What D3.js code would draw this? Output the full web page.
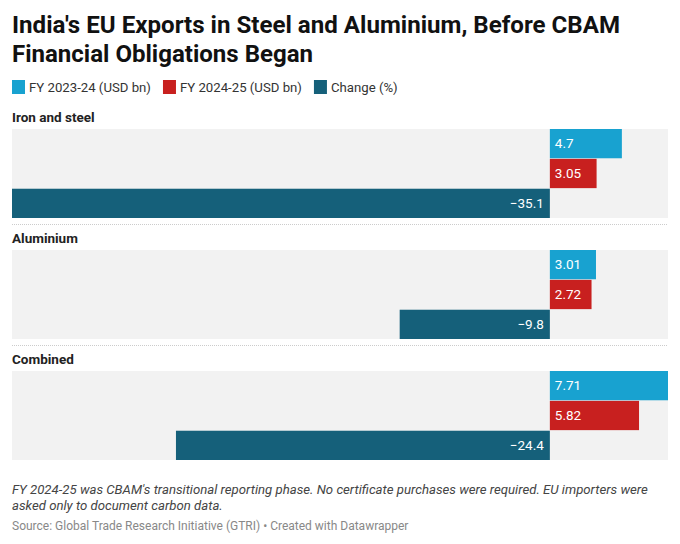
<!DOCTYPE html>
<html>
<head>
<meta charset="utf-8">
<script src="https://cdn.jsdelivr.net/npm/d3@7"></script>
<style>
	body { margin: 0; background: #fff; }
	svg { display: block; font-family: Roboto, "Noto Sans", sans-serif; }
</style>
</head>
<body>
<div id="chart"></div>
<script>
// chart values
var categories = ["Iron and steel", "Aluminium", "Combined"];
var seriesNames = ["FY 2023-24 (USD bn)", "FY 2024-25 (USD bn)", "Change (%)"];
var fy2324 = [4.7, 3.01, 7.71];
var fy2425 = [3.05, 2.72, 5.82];
var change = [-35.1, -9.8, -24.4];
var colors = ["#18a2d0", "#c8201f", "#15607a"];

var w = 680, h = 544;
var left = 12, right = 668;
var panelTop = 129, panelStep = 121, panelH = 89;

var svg = d3.select("#chart").append("svg")
	.attr("width", w)
	.attr("height", h);

// title
svg.append("text")
	.attr("x", left).attr("y", 33)
	.attr("font-size", 24).attr("font-weight", 700).attr("fill", "#111")
	.attr("textLength", 608).attr("lengthAdjust", "spacingAndGlyphs")
	.text("India's EU Exports in Steel and Aluminium, Before CBAM");
svg.append("text")
	.attr("x", left).attr("y", 62)
	.attr("font-size", 24).attr("font-weight", 700).attr("fill", "#111")
	.attr("textLength", 301).attr("lengthAdjust", "spacingAndGlyphs")
	.text("Financial Obligations Began");

// legend
var lx = left;
seriesNames.forEach(function(name, i) {
	svg.append("rect")
		.attr("x", lx).attr("y", 80)
		.attr("width", 13).attr("height", 14)
		.attr("fill", colors[i]);
	var t = svg.append("text")
		.attr("x", lx + 17).attr("y", 92)
		.attr("font-size", 13.2).attr("fill", "#333")
		.text(name);
	lx += 17 + t.node().getComputedTextLength() + 12;
});

var x = d3.scaleLinear()
	.domain([d3.min(change), d3.max(fy2324.concat(fy2425))])
	.range([left, right]);

var y = d3.scaleBand()
	.domain([0, 1, 2])
	.range([0, panelH])
	.paddingInner(0.02);

categories.forEach(function(cat, i) {
	var top = panelTop + i * panelStep;
	var g = svg.append("g").attr("transform", "translate(0," + top + ")");

	svg.append("text")
		.attr("x", left).attr("y", top - 7)
		.attr("font-size", 13.5).attr("font-weight", 700).attr("fill", "#222")
		.text(cat);

	g.append("rect")
		.attr("x", left).attr("y", 0)
		.attr("width", right - left).attr("height", panelH)
		.attr("fill", "#f2f2f2");

	var vals = [fy2324[i], fy2425[i], change[i]];
	g.selectAll("rect.bar")
		.data(vals)
		.enter()
		.append("rect")
		.attr("class", "bar")
		.attr("x", function(d) { return x(Math.min(0, d)); })
		.attr("y", function(d, j) { return y(j); })
		.attr("width", function(d) { return Math.abs(x(d) - x(0)); })
		.attr("height", y.bandwidth())
		.attr("fill", function(d, j) { return colors[j]; });

	g.selectAll("text.lbl")
		.data(vals)
		.enter()
		.append("text")
		.attr("class", "lbl")
		.attr("x", function(d) { return d < 0 ? x(0) - 6 : x(0) + 5; })
		.attr("y", function(d, j) { return y(j) + y.bandwidth() / 2 + 4.5; })
		.attr("text-anchor", function(d) { return d < 0 ? "end" : "start"; })
		.attr("font-size", 13.5).attr("fill", "#fff")
		.text(function(d) { return d < 0 ? "\u2212" + Math.abs(d) : d; });

	if (i < categories.length - 1) {
		svg.append("line")
			.attr("x1", left).attr("x2", right)
			.attr("y1", top + panelH + 6.5).attr("y2", top + panelH + 6.5)
			.attr("stroke", "#ccc").attr("stroke-dasharray", "1,1");
	}
});

// notes
svg.append("text")
	.attr("x", left).attr("y", 494)
	.attr("font-size", 13.2).attr("font-style", "italic").attr("fill", "#444")
	.text("FY 2024-25 was CBAM's transitional reporting phase. No certificate purchases were required. EU importers were");
svg.append("text")
	.attr("x", left).attr("y", 510)
	.attr("font-size", 13.2).attr("font-style", "italic").attr("fill", "#444")
	.text("asked only to document carbon data.");
svg.append("text")
	.attr("x", left).attr("y", 530)
	.attr("font-size", 12).attr("fill", "#888")
	.text("Source: Global Trade Research Initiative (GTRI) \u2022 Created with Datawrapper");
</script>
</body>
</html>
